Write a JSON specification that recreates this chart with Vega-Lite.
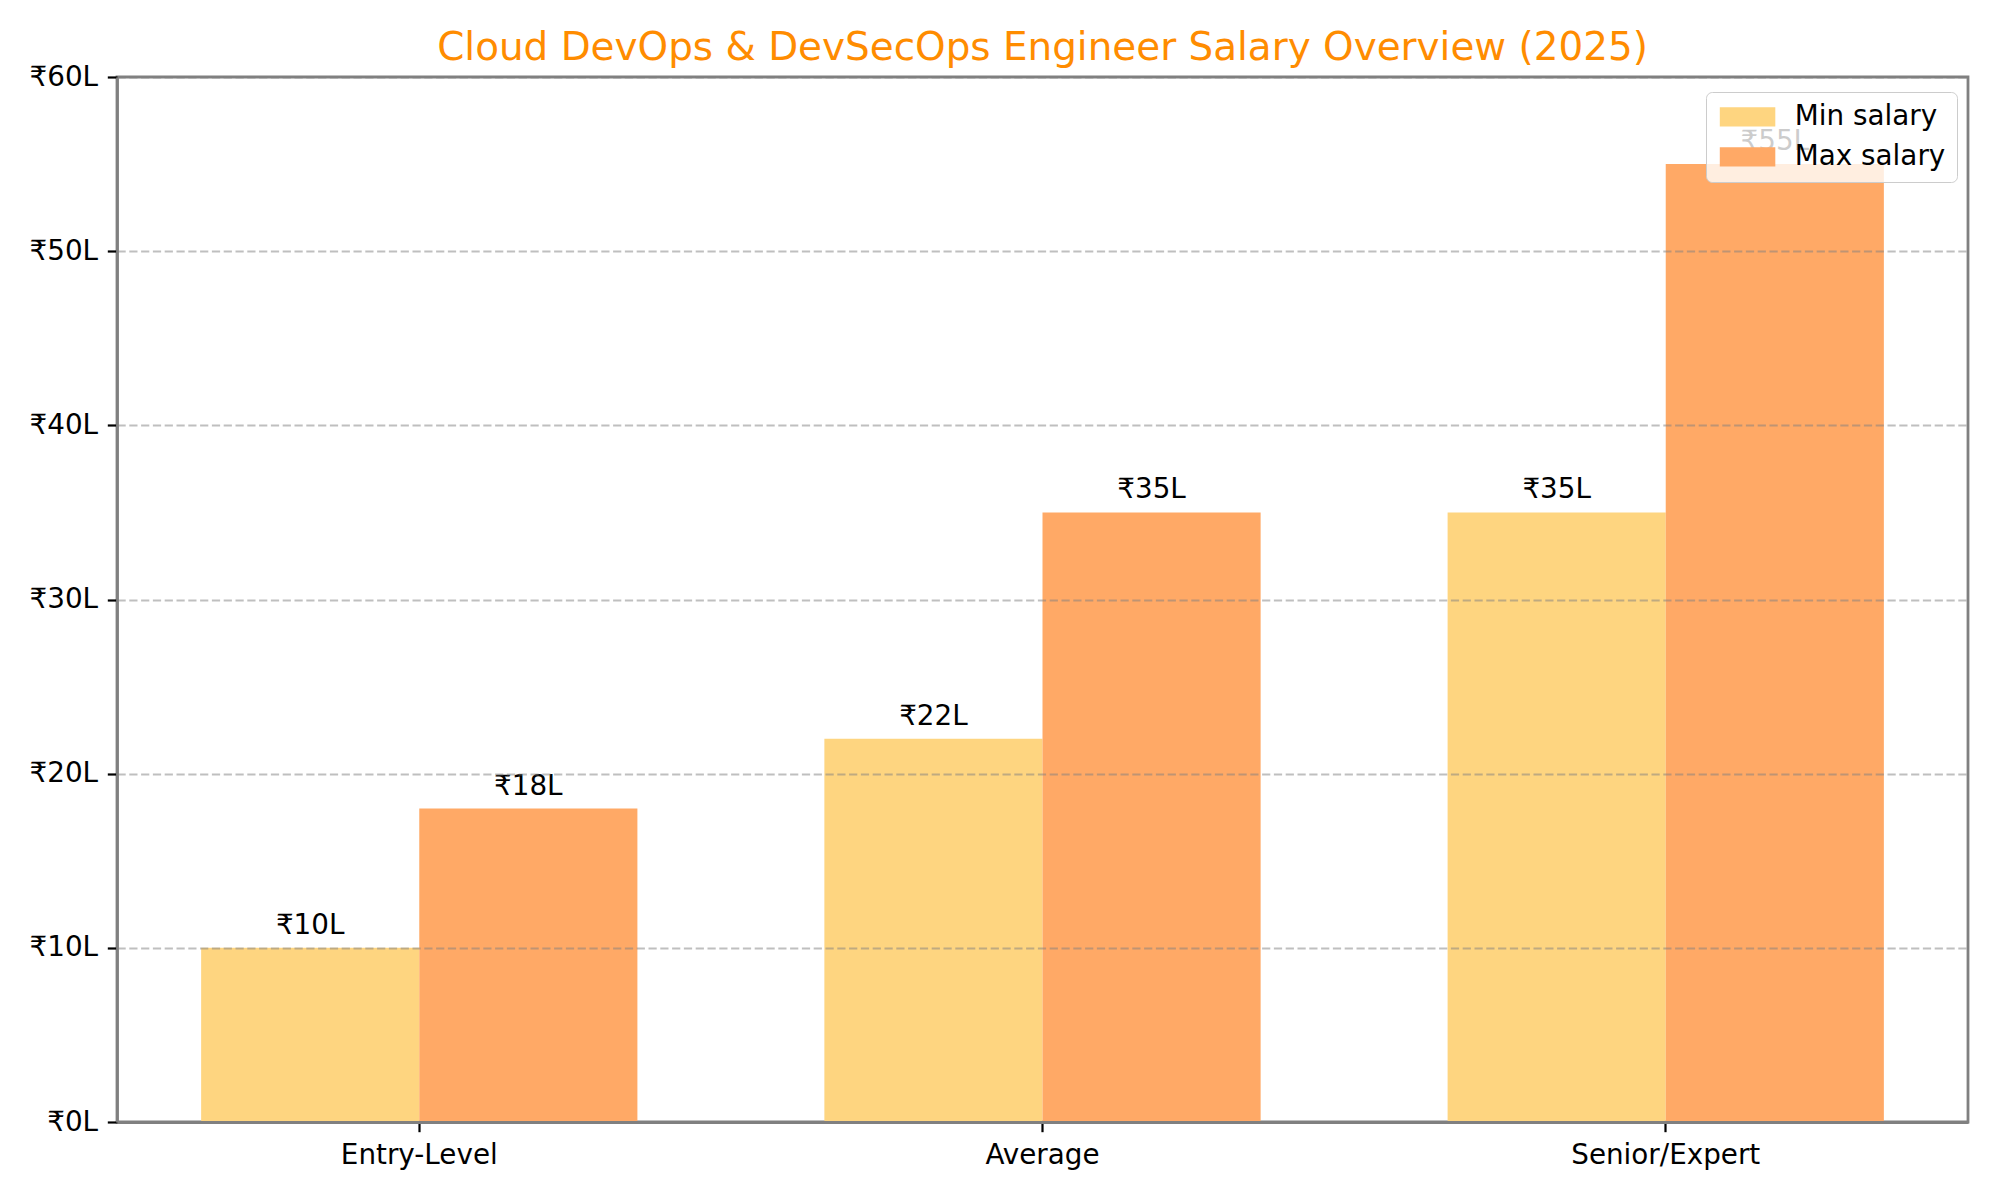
{
  "$schema": "https://vega.github.io/schema/vega-lite/v6.json",
  "autosize": {"type": "none"},
  "padding": {"left": 117, "top": 77, "right": 32, "bottom": 78},
  "width": 1851,
  "height": 1045,
  "background": "white",
  "title": {
    "text": "Cloud DevOps & DevSecOps Engineer Salary Overview (2025)",
    "color": "#FF8C00",
    "fontSize": 38.9,
    "font": "DejaVu Sans",
    "fontWeight": "normal",
    "anchor": "middle",
    "frame": "group",
    "baseline": "bottom",
    "offset": 9,
    "dy": 53
  },
  "config": {
    "font": "DejaVu Sans",
    "view": {"stroke": "#808080", "strokeWidth": 2.8},
    "axis": {
      "labelFont": "DejaVu Sans",
      "labelFontSize": 27.8,
      "labelColor": "black",
      "labelLimit": 0,
      "tickColor": "black",
      "tickWidth": 2.2,
      "tickSize": 9.7,
      "labelPadding": 9.7,
      "domainColor": "#808080",
      "domainWidth": 2.8,
      "title": null
    },
    "legend": {
      "labelFont": "DejaVu Sans",
      "labelFontSize": 27.8,
      "labelColor": "black",
      "labelLimit": 0
    }
  },
  "data": {
    "values": [
      {"level": "Entry-Level", "type": "Min salary", "salary": 10},
      {"level": "Entry-Level", "type": "Max salary", "salary": 18},
      {"level": "Average", "type": "Min salary", "salary": 22},
      {"level": "Average", "type": "Max salary", "salary": 35},
      {"level": "Senior/Expert", "type": "Min salary", "salary": 35},
      {"level": "Senior/Expert", "type": "Max salary", "salary": 55}
    ]
  },
  "transform": [
    {"calculate": "'₹' + datum.salary + 'L'", "as": "label"}
  ],
  "encoding": {
    "x": {
      "field": "level",
      "type": "nominal",
      "sort": ["Entry-Level", "Average", "Senior/Expert"],
      "scale": {"paddingInner": 0.3, "paddingOuter": 0.135},
      "axis": {"labelAngle": 0, "zindex": 1, "grid": false}
    },
    "xOffset": {
      "field": "type",
      "type": "nominal",
      "sort": ["Min salary", "Max salary"],
      "scale": {"paddingInner": 0, "paddingOuter": 0}
    },
    "y": {
      "field": "salary",
      "type": "quantitative",
      "scale": {"domain": [0, 60], "nice": false},
      "axis": {
        "values": [0, 10, 20, 30, 40, 50, 60],
        "labelExpr": "'₹' + datum.value + 'L'",
        "grid": true,
        "gridColor": "#808080",
        "gridOpacity": 0.5,
        "gridWidth": 2.2,
        "gridDash": [8.2, 3.6],
        "zindex": 1
      }
    }
  },
  "layer": [
    {
      "mark": {"type": "bar"},
      "encoding": {
        "color": {
          "field": "type",
          "type": "nominal",
          "sort": ["Min salary", "Max salary"],
          "scale": {"domain": ["Min salary", "Max salary"], "range": ["#FED580", "#FFA966"]},
          "legend": {
            "title": null,
            "orient": "none",
            "legendX": 1589,
            "legendY": 15,
            "symbolType": "M-1,-0.875H4V0.875H-1Z",
            "symbolSize": 493,
            "symbolStrokeWidth": 0,
            "symbolOpacity": 1,
            "labelOffset": 50,
            "rowPadding": 11,
            "padding": 11,
            "fillColor": "rgba(255,255,255,0.8)",
            "strokeColor": "#cccccc",
            "cornerRadius": 6
          }
        }
      }
    },
    {
      "mark": {
        "type": "text",
        "baseline": "bottom",
        "dy": -8,
        "fontSize": 27.8,
        "font": "DejaVu Sans",
        "color": "black"
      },
      "encoding": {
        "text": {"field": "label"}
      }
    }
  ]
}
